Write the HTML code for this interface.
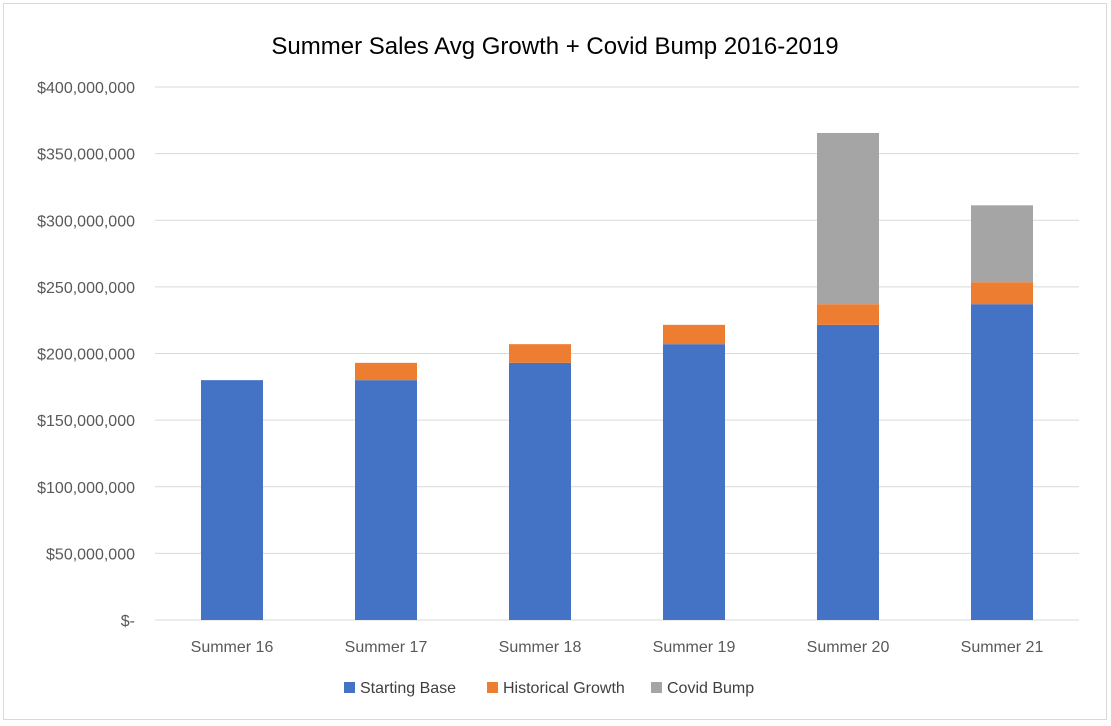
<!DOCTYPE html>
<html><head><meta charset="utf-8"><style>
body{margin:0;background:#fff;}
svg{display:block;font-family:"Liberation Sans",sans-serif;}
</style></head><body>
<svg id="chart" width="1111" height="726">
<rect x="3.5" y="3.5" width="1103" height="716" fill="#fff" stroke="#d9d9d9"/>
<text x="555" y="54" text-anchor="middle" font-size="24" fill="#000">Summer Sales Avg Growth + Covid Bump 2016-2019</text>
<g id="grid"></g><g id="bars"></g><g id="labels"></g>
<g font-size="16" fill="#404040">
<rect x="344" y="682" width="11" height="11" fill="#4472c4"/>
<text x="360" y="693">Starting Base</text>
<rect x="487" y="682" width="11" height="11" fill="#ed7d31"/>
<text x="503" y="693">Historical Growth</text>
<rect x="651" y="682" width="11" height="11" fill="#a5a5a5"/>
<text x="667" y="693">Covid Bump</text>
</g>
</svg>
<script>
const categories=["Summer 16","Summer 17","Summer 18","Summer 19","Summer 20","Summer 21"];
const startingBase=[180,180,193,207,221.5,237];
const historicalGrowth=[0,13,14,14.5,15.5,16.5];
const covidBump=[0,0,0,0,128.5,57.7];
const ticks=[0,50,100,150,200,250,300,350,400];
const tickLabels=["$-","$50,000,000","$100,000,000","$150,000,000","$200,000,000","$250,000,000","$300,000,000","$350,000,000","$400,000,000"];
const NS="http://www.w3.org/2000/svg";
const x0=155,x1=1079,y0=620,yTop=87;
const y=v=>y0-(v/400)*(y0-yTop);
const band=(x1-x0)/categories.length;
const xc=i=>x0+band*(i+0.5);
function mk(t,a,p){const e=document.createElementNS(NS,t);for(const k in a)e.setAttribute(k,a[k]);p.appendChild(e);return e;}
const g=document.getElementById('grid'),b=document.getElementById('bars'),l=document.getElementById('labels');
ticks.forEach((t,i)=>{
 const ln=mk('line',{x1:x0,x2:x1,y1:y(t),y2:y(t),stroke:'#d9d9d9','stroke-width':1},g);
 
 
 const tx=mk('text',{x:135,y:y(t)+6,'text-anchor':'end','font-size':16,fill:'#595959'},l);
 tx.textContent=tickLabels[i];
 
 
});
const series=[[startingBase,'#4472c4','starting-base'],[historicalGrowth,'#ed7d31','historical-growth'],[covidBump,'#a5a5a5','covid-bump']];
categories.forEach((c,i)=>{
 let acc=0;
 series.forEach(([arr,col,nm])=>{
  const v=arr[i];
  if(v>0){
   const r=mk('rect',{x:xc(i)-31,width:62,y:y(acc+v),height:y(acc)-y(acc+v),fill:col},b);
   
   
  }
  acc+=v;
 });
 const tx=mk('text',{x:xc(i),y:652,'text-anchor':'middle','font-size':16,fill:'#595959'},l);
 tx.textContent=c;
 
 
});
</script>
</body></html>
